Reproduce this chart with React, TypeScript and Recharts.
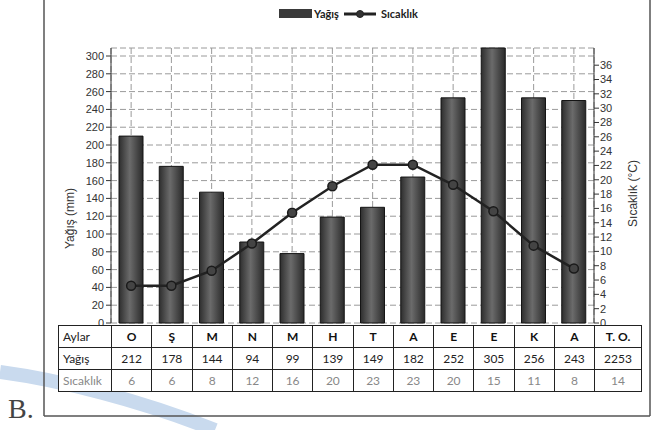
import { Bar, CartesianGrid, ComposedChart, Legend, Line, XAxis, YAxis } from 'recharts';

const months = ['O', 'Ş', 'M', 'N', 'M', 'H', 'T', 'A', 'E', 'E', 'K', 'A'];
// bar heights as drawn in the picture (mm)
const rainBars = [210, 176, 147, 91, 78, 119, 130, 164, 253, 309, 253, 250];
// temperature points as drawn (°C)
const tempPoints = [5.2, 5.2, 7.3, 11.1, 15.4, 19.1, 22.1, 22.1, 19.3, 15.6, 10.8, 7.6];
// table values
const rainTable = ['212', '178', '144', '94', '99', '139', '149', '182', '252', '305', '256', '243'];
const tempTable = ['6', '6', '8', '12', '16', '20', '23', '23', '20', '15', '11', '8'];
const totalLabel = 'T.  O.';
const rainTotal = '2253';
const tempMean = '14';

const rainTicks = [0, 20, 40, 60, 80, 100, 120, 140, 160, 180, 200, 220, 240, 260, 280, 300];
const tempTicks = [0, 2, 4, 6, 8, 10, 12, 14, 16, 18, 20, 22, 24, 26, 28, 30, 32, 34, 36];

const data = months.map((m, i) => ({ key: i, month: m, rain: rainBars[i], temp: tempPoints[i] }));

const PLOT_LEFT = 111;
const PLOT_RIGHT = 594;
const PLOT_TOP = 35;
const PLOT_BOTTOM = 323;
const W = 658;
const H = 430;

const tickStyle = { fontFamily: 'Liberation Sans, Arial, sans-serif', fontSize: 11, fill: '#333' };

function LegendContent() {
  return (
    <div
      style={{
        display: 'flex',
        alignItems: 'center',
        justifyContent: 'center',
        fontFamily: 'Lato, "Open Sans", sans-serif',
        fontSize: 11,
        fontWeight: 'bold',
        color: '#222',
        marginLeft: 2,
      }}
    >
      <span style={{ display: 'inline-block', width: 33, height: 9, background: '#3a3a3a', marginRight: 2 }} />
      <span style={{ marginRight: 5 }}>Yağış</span>
      <svg width={32} height={10} style={{ marginRight: 5 }}>
        <line x1={0} y1={5} x2={32} y2={5} stroke="#222" strokeWidth={3} />
        <circle cx={16} cy={5} r={3.5} fill="#333" stroke="#222" />
      </svg>
      <span>Sıcaklık</span>
    </div>
  );
}

function DataTable() {
  const colW = (PLOT_RIGHT - PLOT_LEFT) / months.length;
  const cell = {
    border: '1.5px solid #222',
    padding: 0,
    textAlign: 'center' as const,
    height: 21,
  };
  const rows = [
    { label: 'Aylar', vals: months, tail: totalLabel, color: '#111', weight: 'bold' as const, labelColor: '#222' },
    { label: 'Yağış', vals: rainTable, tail: rainTotal, color: '#222', weight: 'normal' as const, labelColor: '#222' },
    { label: 'Sıcaklık', vals: tempTable, tail: tempMean, color: '#888', weight: 'normal' as const, labelColor: '#888' },
  ];
  return (
    <table
      style={{
        position: 'absolute',
        left: 58,
        top: 325,
        borderCollapse: 'collapse',
        tableLayout: 'fixed',
        fontFamily: 'Lato, "Open Sans", sans-serif',
        fontSize: 12,
        background: '#fff',
      }}
    >
      <colgroup>
        <col style={{ width: PLOT_LEFT - 58 }} />
        {months.map((_, i) => (
          <col key={i} style={{ width: colW }} />
        ))}
        <col style={{ width: 47 }} />
      </colgroup>
      <tbody>
        {rows.map((r) => (
          <tr key={r.label}>
            <td style={{ ...cell, textAlign: 'left', paddingLeft: 4, color: r.labelColor }}>{r.label}</td>
            {r.vals.map((v, i) => (
              <td key={i} style={{ ...cell, color: r.color, fontWeight: r.weight }}>
                {v}
              </td>
            ))}
            <td style={{ ...cell, color: r.color, fontWeight: r.weight }}>{r.tail}</td>
          </tr>
        ))}
      </tbody>
    </table>
  );
}

export default function App() {
  return (
    <div style={{ position: 'absolute', left: 0, top: 0, width: W, height: H, background: '#fff', overflow: 'hidden' }}>
      {/* decorative swoosh from the scan */}
      <svg width={W} height={H} style={{ position: 'absolute', left: 0, top: 0 }}>
        <path d="M0,372 C60,380 140,400 215,430" stroke="#c9daee" strokeWidth={14} fill="none" />
        <line x1={44} y1={0} x2={44} y2={416} stroke="#555" strokeWidth={1.5} />
        <line x1={44} y1={416} x2={650} y2={416} stroke="#555" strokeWidth={1.5} />
        <line x1={650} y1={0} x2={650} y2={416} stroke="#555" strokeWidth={1.5} />
        <text x={8} y={418} fontFamily="Liberation Serif, serif" fontSize={28} fill="#444">
          B.
        </text>
      </svg>
      <div style={{ position: 'absolute', left: 0, top: 0 }}>
        <ComposedChart
          width={W}
          height={H}
          data={data}
          margin={{ top: PLOT_TOP, right: W - PLOT_RIGHT - 40, bottom: H - PLOT_BOTTOM, left: PLOT_LEFT - 50 }}
          barCategoryGap="40%"
        >
          <defs>
            <linearGradient id="bar-fill" x1="0" y1="0" x2="1" y2="0">
              <stop offset="0%" stopColor="#2e2e2e" />
              <stop offset="45%" stopColor="#6b6b6b" />
              <stop offset="100%" stopColor="#2a2a2a" />
            </linearGradient>
          </defs>
          <CartesianGrid yAxisId="left" stroke="#9a9a9a" strokeDasharray="6 3" />
          <XAxis dataKey="key" hide />
          <YAxis
            yAxisId="left"
            domain={[0, 308.6]}
            ticks={rainTicks}
            width={50}
            tick={tickStyle}
            tickSize={5}
            tickMargin={2}
            stroke="#333"
            interval={0}
            label={{
              value: 'Yağış (mm)',
              angle: -90,
              position: 'insideLeft',
              offset: 0,
              dx: 9,
              dy: 33,
              style: { fontFamily: 'Liberation Sans, Arial, sans-serif', fontSize: 12, fill: '#333', textAnchor: 'middle' },
            }}
          />
          <YAxis
            yAxisId="right"
            orientation="right"
            domain={[0, 38.4]}
            ticks={tempTicks}
            width={40}
            tick={tickStyle}
            tickSize={5}
            tickMargin={1}
            stroke="#333"
            interval={0}
            label={{
              value: 'Sıcaklık (°C)',
              angle: -90,
              position: 'insideRight',
              offset: 0,
              dx: -1,
              dy: 8,
              style: { fontFamily: 'Liberation Sans, Arial, sans-serif', fontSize: 12, fill: '#333', textAnchor: 'middle' },
            }}
          />
          <Legend verticalAlign="top" align="center" wrapperStyle={{ top: 7 }} content={() => <LegendContent />} />
          <Bar
            yAxisId="left"
            dataKey="rain"
            barSize={24}
            fill="url(#bar-fill)"
            stroke="#151515"
            strokeWidth={1}
            isAnimationActive={false}
          />
          <Line
            yAxisId="right"
            dataKey="temp"
            type="linear"
            stroke="#222"
            strokeWidth={2.5}
            dot={{ r: 4.5, fill: '#444', stroke: '#1a1a1a', strokeWidth: 1.5 }}
            isAnimationActive={false}
          />
        </ComposedChart>
      </div>
      <DataTable />
    </div>
  );
}
